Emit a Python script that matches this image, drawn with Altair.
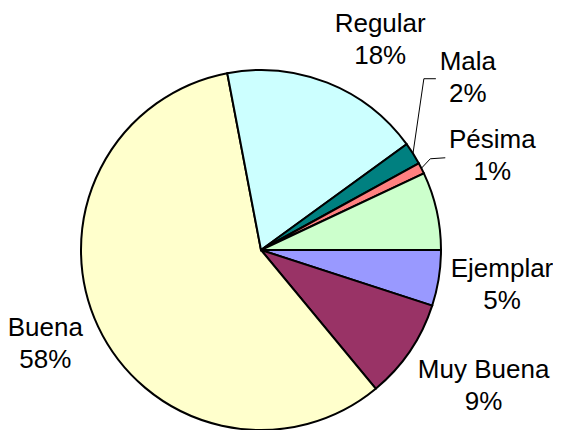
import math
import altair as alt
import pandas as pd

# Data (clockwise from 3 o'clock)
categories = ["Ejemplar", "Muy Buena", "Buena", "Regular", "Mala", "Pésima", "Otra"]
values = [5, 9, 58, 18, 2, 1, 7]
labels = ["Ejemplar\n5%", "Muy Buena\n9%", "Buena\n58%", "Regular\n18%", "Mala\n2%", "Pésima\n1%", ""]
colors = ["#9999FF", "#993366", "#FFFFCC", "#CCFFFF", "#008080", "#FF8080", "#CCFFCC"]

df = pd.DataFrame({
    "cat": categories,
    "value": values,
    "label": labels,
    "idx": list(range(len(categories))),
})

# layout (chart coordinates)
CX, CY = 253, 242
R_PIE = 180
R_LABEL = 245
START = math.pi / 2
FONT = "Liberation Sans"
LINE_H = 32

theta_scale = alt.Scale(range=[START, START + 2 * math.pi])

pie = alt.Chart(df).mark_arc(radius=R_PIE, stroke="black", strokeWidth=2).encode(
    theta=alt.Theta("value:Q", stack=True, scale=theta_scale),
    order=alt.Order("idx:Q"),
    x=alt.value(CX),
    y=alt.value(CY),
    color=alt.Color("cat:N", scale=alt.Scale(domain=categories, range=colors), legend=None),
)

# mid-angle of each slice, computed from the data
polar = (
    alt.Chart(df)
    .transform_joinaggregate(total="sum(value)")
    .transform_window(cum="sum(value)", sort=[alt.SortField("idx")], frame=[None, 0])
    .transform_calculate(ang=f"{START} + 2*PI*(datum.cum - datum.value/2)/datum.total")
    .transform_calculate(
        sx=f"{CX} + {R_PIE}*sin(datum.ang)",
        sy=f"{CY} - {R_PIE}*cos(datum.ang)",
        lx=f"{CX} + {R_LABEL}*sin(datum.ang)",
        ly=f"{CY} - {R_LABEL}*cos(datum.ang)",
    )
)

# label block centre offsets from the mid-angle point
nudges = {
    "Ejemplar": (-1, -3),
    "Muy Buena": (20, -2),
    "Buena": (6, -10),
    "Regular": (29, 18),
    "Mala": (0, -41),
    "Pésima": (13, 17),
}

layers = [pie]
for cat, (dx, dy) in nudges.items():
    layers.append(
        polar.transform_filter(alt.datum.cat == cat)
        .mark_text(
            dx=dx, dy=dy - LINE_H / 2, font=FONT, fontSize=26,
            lineBreak="\n", lineHeight=LINE_H, align="center", baseline="middle", color="black",
        )
        .encode(x=alt.X("lx:Q", scale=None), y=alt.Y("ly:Q", scale=None), text="label:N")
    )

# leader lines for the two smallest labelled slices
leaders = {
    # cat: (elbow offset from label centre, end offset from label centre)
    "Mala": ((-44, 1), (-32, 1)),
    "Pésima": ((-62, 3), (-47, 2)),
}
for cat, ((ex, ey), (tx, ty)) in leaders.items():
    dx, dy = nudges[cat]
    lead = polar.transform_filter(alt.datum.cat == cat).transform_calculate(
        bx=f"datum.lx + {dx + ex}", by=f"datum.ly + {dy + ey}",
        tx=f"datum.lx + {dx + tx}", ty=f"datum.ly + {dy + ty}",
    )
    seg1 = lead.mark_rule(color="black", strokeWidth=1).encode(
        x=alt.X("sx:Q", scale=None), y=alt.Y("sy:Q", scale=None),
        x2="bx:Q", y2="by:Q",
    )
    seg2 = lead.mark_rule(color="black", strokeWidth=1).encode(
        x=alt.X("bx:Q", scale=None), y=alt.Y("by:Q", scale=None),
        x2="tx:Q", y2="ty:Q",
    )
    layers += [seg1, seg2]

chart = (
    alt.layer(*layers)
    .resolve_scale(x="independent", y="independent")
    .properties(width=545, height=422, autosize="none", padding=0, background="white")
    .configure_view(stroke=None)
)

chart.save("out.html", embed_options={"renderer": "svg", "actions": False})
